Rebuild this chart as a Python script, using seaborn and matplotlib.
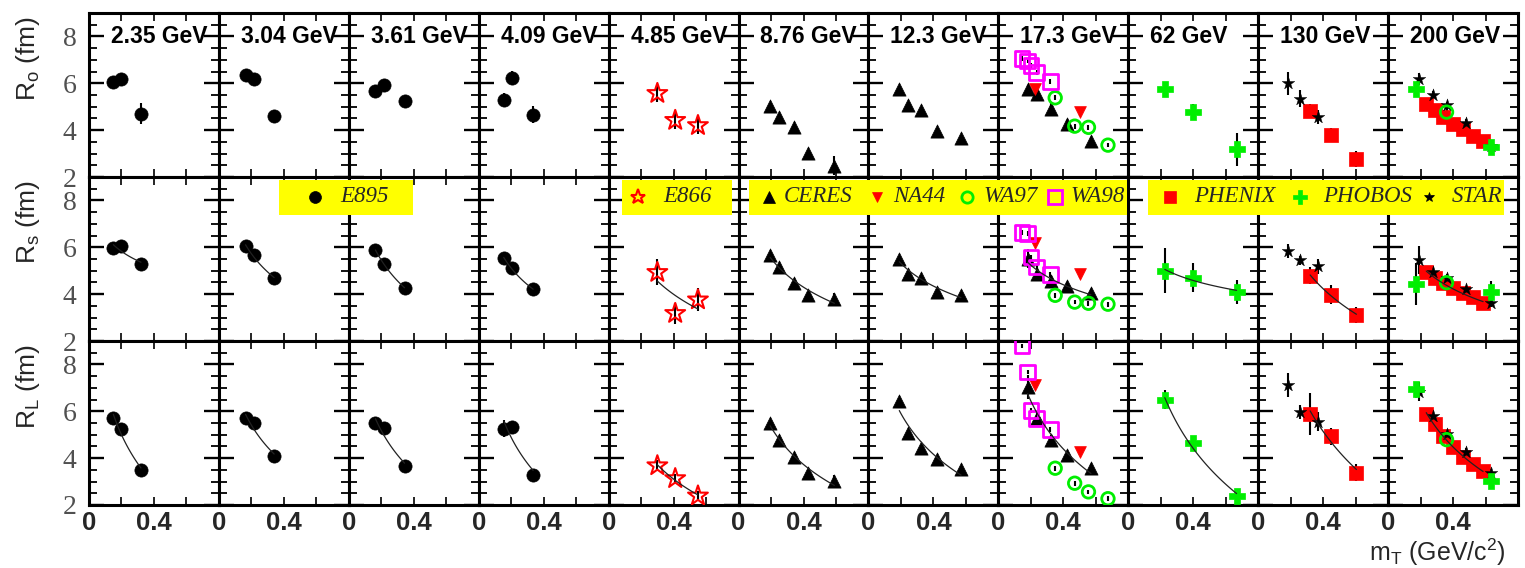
import matplotlib
matplotlib.use("Agg")
import matplotlib.pyplot as plt
from matplotlib.lines import Line2D
from matplotlib.patches import Rectangle
import numpy as np
import pandas as pd
import seaborn as sns

# ---------------------------------------------------------------- data
ENERGIES = ["2.35 GeV", "3.04 GeV", "3.61 GeV", "4.09 GeV", "4.85 GeV", "8.76 GeV",
            "12.3 GeV", "17.3 GeV", "62 GeV", "130 GeV", "200 GeV"]
ROW_LABELS = ["R$_\\mathregular{o}$ (fm)", "R$_\\mathregular{s}$ (fm)", "R$_\\mathregular{L}$ (fm)"]
X_LABEL = "m$_\\mathregular{T}$ (GeV/c$^\\mathregular{2}$)"

# E895 (AGS) - four beam energies
E895_COLS = [0, 1, 2, 3]
E895_MT = [[0.15, 0.20, 0.32], [0.164, 0.215, 0.34], [0.164, 0.215, 0.343], [0.154, 0.205, 0.335]]
E895_RO = [[6.07, 6.19, 4.70], [6.36, 6.19, 4.60], [5.67, 5.93, 5.25], [5.28, 6.22, 4.66]]
E895_RS = [[5.96, 6.07, 5.27], [6.06, 5.66, 4.68], [5.88, 5.30, 4.27], [5.55, 5.10, 4.20]]
E895_RL = [[5.71, 5.26, 3.48], [5.71, 5.50, 4.08], [5.50, 5.28, 3.68], [5.26, 5.35, 3.28]]
E895_RO_ERR = [[0.12, 0.12, 0.45], [0.1, 0.1, 0.15], [0.1, 0.1, 0.15], [0.3, 0.3, 0.35]]
E895_RS_ERR = [[0.1, 0.1, 0.2], [0.1, 0.1, 0.15], [0.1, 0.1, 0.15], [0.15, 0.15, 0.15]]
E895_RL_ERR = [[0.1, 0.1, 0.15], [0.1, 0.1, 0.15], [0.1, 0.1, 0.15], [0.35, 0.15, 0.15]]

# E866
E866_COLS = [4]
E866_MT = [[0.30, 0.41, 0.55]]
E866_RO = [[5.57, 4.42, 4.20]]
E866_RS = [[4.93, 3.18, 3.76]]
E866_RL = [[3.68, 3.13, 2.39]]
E866_RO_ERR = [[0.35, 0.35, 0.35]]
E866_RS_ERR = [[0.55, 0.45, 0.5]]
E866_RL_ERR = [[0.25, 0.2, 0.2]]

# CERES (SPS)
CERES_COLS = [5, 6, 7]
CERES_MT = [[0.195, 0.25, 0.34, 0.43, 0.59], [0.19, 0.246, 0.325, 0.42, 0.57], [0.18, 0.24, 0.325, 0.42, 0.57]]
CERES_RO = [[5.03, 4.56, 4.13, 3.01, 2.49], [5.76, 5.06, 4.85, 3.98, 3.65], [5.76, 5.53, 4.92, 4.27, 3.55]]
CERES_RS = [[5.66, 5.15, 4.49, 3.95, 3.81], [5.52, 4.86, 4.71, 4.10, 3.98], [5.52, 4.86, 4.57, 4.35, 4.05]]
CERES_RL = [[5.50, 4.76, 4.04, 3.38, 3.01], [6.42, 5.08, 4.42, 3.97, 3.53], [7.04, 5.70, 4.79, 4.12, 3.60]]
CERES_RO_ERR = [[0.1, 0.1, 0.1, 0.15, 0.4], [0.1, 0.1, 0.1, 0.1, 0.15], [0.15, 0.3, 0.3, 0.15, 0.15]]
CERES_RS_ERR = [[0.1, 0.1, 0.1, 0.1, 0.25], [0.1, 0.1, 0.1, 0.1, 0.1], [0.4, 0.2, 0.15, 0.15, 0.15]]
CERES_RL_ERR = [[0.1, 0.1, 0.1, 0.1, 0.25], [0.1, 0.1, 0.1, 0.1, 0.1], [0.5, 0.3, 0.2, 0.15, 0.15]]

# NA44, WA97, WA98 at 17.3 GeV
NA44_COLS = [7]
NA44_MT = [[0.226, 0.50]]
NA44_RO = [[5.76, 4.77]]
NA44_RS = [[6.20, 4.86]]
NA44_RL = [[7.13, 4.27]]
NA44_RO_ERR = [[0.15, 0.15]]
NA44_RS_ERR = [[0.15, 0.15]]
NA44_RL_ERR = [[0.15, 0.15]]

WA97_COLS = [7]
WA97_MT = [[0.35, 0.47, 0.555, 0.675]]
WA97_RO = [[5.38, 4.17, 4.12, 3.36]]
WA97_RS = [[3.95, 3.66, 3.61, 3.57]]
WA97_RL = [[3.57, 2.93, 2.56, 2.27]]
WA97_RO_ERR = [[0.1, 0.1, 0.1, 0.1]]
WA97_RS_ERR = [[0.1, 0.1, 0.1, 0.1]]
WA97_RL_ERR = [[0.1, 0.1, 0.1, 0.1]]

WA98_COLS = [7]
WA98_MT = [[0.145, 0.18, 0.20, 0.235, 0.32]]
WA98_RO = [[7.05, 6.95, 6.75, 6.45, 6.07]]
WA98_RS = [[6.62, 6.60, 5.59, 5.15, 4.83]]
WA98_RL = [[8.79, 7.68, 6.04, 5.70, 5.23]]
WA98_RO_ERR = [[0.1, 0.1, 0.1, 0.1, 0.1]]
WA98_RS_ERR = [[0.1, 0.1, 0.1, 0.1, 0.1]]
WA98_RL_ERR = [[0.1, 0.1, 0.1, 0.1, 0.1]]

# RHIC
PHENIX_COLS = [9, 10]
PHENIX_MT = [[0.32, 0.45, 0.605], [0.235, 0.287, 0.34, 0.40, 0.46, 0.52, 0.585]]
PHENIX_RO = [[4.80, 3.79, 2.78], [5.13, 4.85, 4.56, 4.27, 4.05, 3.77, 3.55]]
PHENIX_RS = [[4.79, 3.98, 3.11], [4.93, 4.71, 4.49, 4.27, 4.05, 3.86, 3.61]]
PHENIX_RL = [[5.90, 4.93, 3.38], [5.90, 5.45, 4.93, 4.49, 4.04, 3.75, 3.45]]
PHENIX_RO_ERR = [[0.3, 0.3, 0.35], [0.1, 0.1, 0.1, 0.1, 0.1, 0.1, 0.1]]
PHENIX_RS_ERR = [[0.35, 0.4, 0.35], [0.1, 0.1, 0.1, 0.1, 0.1, 0.1, 0.1]]
PHENIX_RL_ERR = [[0.9, 0.35, 0.35], [0.1, 0.1, 0.1, 0.1, 0.1, 0.1, 0.1]]

PHOBOS_COLS = [8, 10]
PHOBOS_MT = [[0.225, 0.396, 0.667], [0.174, 0.635]]
PHOBOS_RO = [[5.76, 4.77, 3.19], [5.76, 3.26]]
PHOBOS_RS = [[5.00, 4.71, 4.10], [4.45, 4.10]]
PHOBOS_RL = [[6.49, 4.64, 2.39], [6.93, 3.01]]
PHOBOS_RO_ERR = [[0.3, 0.35, 0.7], [0.3, 0.3]]
PHOBOS_RS_ERR = [[0.95, 0.6, 0.5], [0.9, 0.45]]
PHOBOS_RL_ERR = [[0.4, 0.2, 0.3], [0.3, 0.25]]

PHOBOS_OPEN_COLS = [10]
PHOBOS_OPEN_MT = [[0.36]]
PHOBOS_OPEN_RO = [[4.77]]
PHOBOS_OPEN_RS = [[4.49]]
PHOBOS_OPEN_RL = [[4.79]]
PHOBOS_OPEN_RO_ERR = [[0.15]]
PHOBOS_OPEN_RS_ERR = [[0.15]]
PHOBOS_OPEN_RL_ERR = [[0.15]]

STAR_COLS = [9, 10]
STAR_MT = [[0.185, 0.26, 0.37], [0.19, 0.277, 0.36, 0.48, 0.636]]
STAR_RO = [[6.00, 5.35, 4.56], [6.19, 5.52, 5.06, 4.31, 3.33]]
STAR_RS = [[5.85, 5.44, 5.18], [5.47, 4.93, 4.71, 4.20, 3.61]]
STAR_RL = [[7.13, 5.97, 5.56], [6.83, 5.80, 5.01, 4.27, 3.38]]
STAR_RO_ERR = [[0.5, 0.35, 0.3], [0.25, 0.15, 0.15, 0.15, 0.15]]
STAR_RS_ERR = [[0.3, 0.2, 0.3], [0.6, 0.15, 0.15, 0.15, 0.15]]
STAR_RL_ERR = [[0.5, 0.3, 0.4], [0.4, 0.2, 0.15, 0.15, 0.15]]

# experiment whose points carry the fitted curve in the R_s and R_L rows
FIT_SOURCE = ["E895", "E895", "E895", "E895", "E866", "CERES", "CERES", "CERES",
              "PHOBOS", "PHENIX", "PHENIX"]

# ---------------------------------------------------------------- tidy table
records = []


def add_experiment(name, cols, mt, ro, rs, rl, ro_err, rs_err, rl_err):
    for k, col in enumerate(cols):
        for row, vals, errs in ((0, ro[k], ro_err[k]), (1, rs[k], rs_err[k]), (2, rl[k], rl_err[k])):
            for x, y, e in zip(mt[k], vals, errs):
                records.append(dict(experiment=name, col=col, row=row, mt=x, radius=y, err=e))


add_experiment("E895", E895_COLS, E895_MT, E895_RO, E895_RS, E895_RL, E895_RO_ERR, E895_RS_ERR, E895_RL_ERR)
add_experiment("E866", E866_COLS, E866_MT, E866_RO, E866_RS, E866_RL, E866_RO_ERR, E866_RS_ERR, E866_RL_ERR)
add_experiment("CERES", CERES_COLS, CERES_MT, CERES_RO, CERES_RS, CERES_RL, CERES_RO_ERR, CERES_RS_ERR, CERES_RL_ERR)
add_experiment("NA44", NA44_COLS, NA44_MT, NA44_RO, NA44_RS, NA44_RL, NA44_RO_ERR, NA44_RS_ERR, NA44_RL_ERR)
add_experiment("WA97", WA97_COLS, WA97_MT, WA97_RO, WA97_RS, WA97_RL, WA97_RO_ERR, WA97_RS_ERR, WA97_RL_ERR)
add_experiment("WA98", WA98_COLS, WA98_MT, WA98_RO, WA98_RS, WA98_RL, WA98_RO_ERR, WA98_RS_ERR, WA98_RL_ERR)
add_experiment("PHENIX", PHENIX_COLS, PHENIX_MT, PHENIX_RO, PHENIX_RS, PHENIX_RL,
               PHENIX_RO_ERR, PHENIX_RS_ERR, PHENIX_RL_ERR)
add_experiment("STAR", STAR_COLS, STAR_MT, STAR_RO, STAR_RS, STAR_RL, STAR_RO_ERR, STAR_RS_ERR, STAR_RL_ERR)
add_experiment("PHOBOS", PHOBOS_COLS, PHOBOS_MT, PHOBOS_RO, PHOBOS_RS, PHOBOS_RL,
               PHOBOS_RO_ERR, PHOBOS_RS_ERR, PHOBOS_RL_ERR)
add_experiment("PHOBOS open", PHOBOS_OPEN_COLS, PHOBOS_OPEN_MT, PHOBOS_OPEN_RO, PHOBOS_OPEN_RS,
               PHOBOS_OPEN_RL, PHOBOS_OPEN_RO_ERR, PHOBOS_OPEN_RS_ERR, PHOBOS_OPEN_RL_ERR)
df = pd.DataFrame(records)

GREEN = "#00ee00"
STYLES = {
    "E895": dict(marker="o", size=9.5, edge="black", face="black", lw=0.5),
    "E866": dict(marker="*", size=15.0, edge="red", face="none", lw=1.5),
    "CERES": dict(marker="^", size=9.5, edge="black", face="black", lw=0.5),
    "NA44": dict(marker="v", size=8.5, edge="red", face="red", lw=0.5),
    "WA97": dict(marker="o", size=9.0, edge=GREEN, face="none", lw=2.0),
    "WA98": dict(marker="s", size=10.5, edge="magenta", face="none", lw=2.0),
    "PHENIX": dict(marker="s", size=9.5, edge="red", face="red", lw=0.5),
    "STAR": dict(marker="*", size=9.5, edge="black", face="black", lw=0.3),
    "PHOBOS": dict(marker="P", size=12.0, edge=GREEN, face=GREEN, lw=0.5),
    "PHOBOS open": dict(marker="o", size=9.0, edge=GREEN, face="none", lw=2.0),
}
DRAW_ORDER = ["E895", "E866", "CERES", "NA44", "WA97", "WA98", "PHENIX", "STAR", "PHOBOS", "PHOBOS open"]

# ---------------------------------------------------------------- figure
W, H = 1525, 568
sns.set_theme(style="ticks")
plt.rcParams["font.family"] = ["Liberation Sans", "DejaVu Sans"]
plt.rcParams["axes.linewidth"] = 2.0
plt.rcParams["axes.edgecolor"] = "black"

fig, axes = plt.subplots(3, 11, figsize=(W / 100, H / 100), dpi=100)
fig.subplots_adjust(left=89 / W, right=1518 / W, top=1 - 13 / H, bottom=1 - 505 / H,
                    wspace=0, hspace=0)

for row in range(3):
    for col in range(11):
        ax = axes[row, col]
        ax.set_facecolor("white")
        panel = df[(df.row == row) & (df.col == col)]
        for name in DRAW_ORDER:
            sub = panel[panel.experiment == name]
            if sub.empty:
                continue
            st = STYLES[name]
            ax.errorbar(sub.mt, sub.radius, yerr=sub.err, fmt="none", ecolor="black",
                        elinewidth=1.5, capsize=0, zorder=2)
            sns.scatterplot(data=sub, x="mt", y="radius", ax=ax, marker=st["marker"],
                            s=st["size"] ** 2, facecolor=st["face"], edgecolor=st["edge"],
                            linewidth=st["lw"], color=st["edge"], legend=False, zorder=3)
        if row > 0:
            fit = panel[panel.experiment == FIT_SOURCE[col]]
            if len(fit) >= 2:
                sns.regplot(data=fit, x="mt", y="radius", ax=ax, logx=True, ci=None,
                            scatter=False, truncate=True, color="#222222",
                            line_kws=dict(lw=0.9, zorder=4))
        ax.set_xlabel("")
        ax.set_ylabel("")
        ax.set_xlim(0, 0.8)
        ax.set_ylim(2, 9.0)

        ax.set_xticks([0, 0.4])
        ax.set_xticks([0.2, 0.6], minor=True)
        ax.set_yticks([2, 4, 6, 8])
        ax.set_yticks(np.arange(2, 9.01, 0.5), minor=True)
        ax.tick_params(axis="x", which="both", direction="in", top=True, bottom=True,
                       length=6, width=1.2, color="black",
                       labelbottom=(row == 2), labelsize=18.5, pad=4)
        ax.tick_params(axis="y", which="major", direction="in", left=True, right=True,
                       length=11, width=1.7, color="black", labelleft=(col == 0),
                       labelsize=20, pad=9)
        ax.tick_params(axis="y", which="minor", direction="in", left=True, right=True,
                       length=6, width=1.3, color="black")
        if row == 2:
            ax.set_xticklabels(["0", "0.4"], fontweight="bold")
        if col == 0:
            ax.set_yticklabels(["2", "4", "6", "8"], fontfamily="Liberation Serif",
                               color="#505050")
        for side in ("left", "right", "top", "bottom"):
            ax.spines[side].set_visible(True)
            ax.spines[side].set_linewidth(2.2)
        if row == 0:
            ax.text(0.135, 8.0, ENERGIES[col], ha="left", va="center", fontsize=16.5,
                    fontweight="bold", color="black", zorder=6)

# axis titles
row_tops = [13, 177, 341]
for r, label in enumerate(ROW_LABELS):
    fig.text(28 / W, 1 - (row_tops[r] + 3) / H, label, rotation=90, ha="center", va="top",
             fontsize=19)
fig.text(1506 / W, 1 - 552 / H, X_LABEL, ha="right", va="center", fontsize=18)

# experiment keys on yellow bands across the middle row
BOXES = [(279, 413), (622, 732), (749, 1127), (1148, 1504)]
for x0, x1 in BOXES:
    fig.add_artist(Rectangle((x0 / W, 1 - 215 / H), (x1 - x0) / W, 35 / H,
                             transform=fig.transFigure, facecolor="#ffff00",
                             edgecolor="none", zorder=5))

KEY_ENTRIES = [("E895", 315, 340), ("E866", 638, 663), ("CERES", 769, 784), ("NA44", 877, 893),
               ("WA97", 967, 983), ("WA98", 1055, 1070), ("PHENIX", 1170, 1194),
               ("PHOBOS", 1300, 1323), ("STAR", 1429, 1452)]
KEY_SCALE = {"E866": 0.75, "STAR": 0.8, "PHOBOS": 0.85}
for name, mx, tx in KEY_ENTRIES:
    st = STYLES[name]
    ms = st["size"] * KEY_SCALE.get(name, 0.9)
    fig.add_artist(Line2D([mx / W], [1 - 197 / H], transform=fig.transFigure,
                          marker=st["marker"], markersize=ms, linestyle="none",
                          markerfacecolor=st["face"], markeredgecolor=st["edge"],
                          markeredgewidth=max(st["lw"], 0.5), zorder=6))
    fig.text(tx / W, 1 - 197 / H, name, ha="left", va="center", fontsize=16.5,
             fontfamily="Liberation Serif", fontstyle="italic", zorder=6)

fig.savefig("out.png", dpi=100, facecolor="white")
